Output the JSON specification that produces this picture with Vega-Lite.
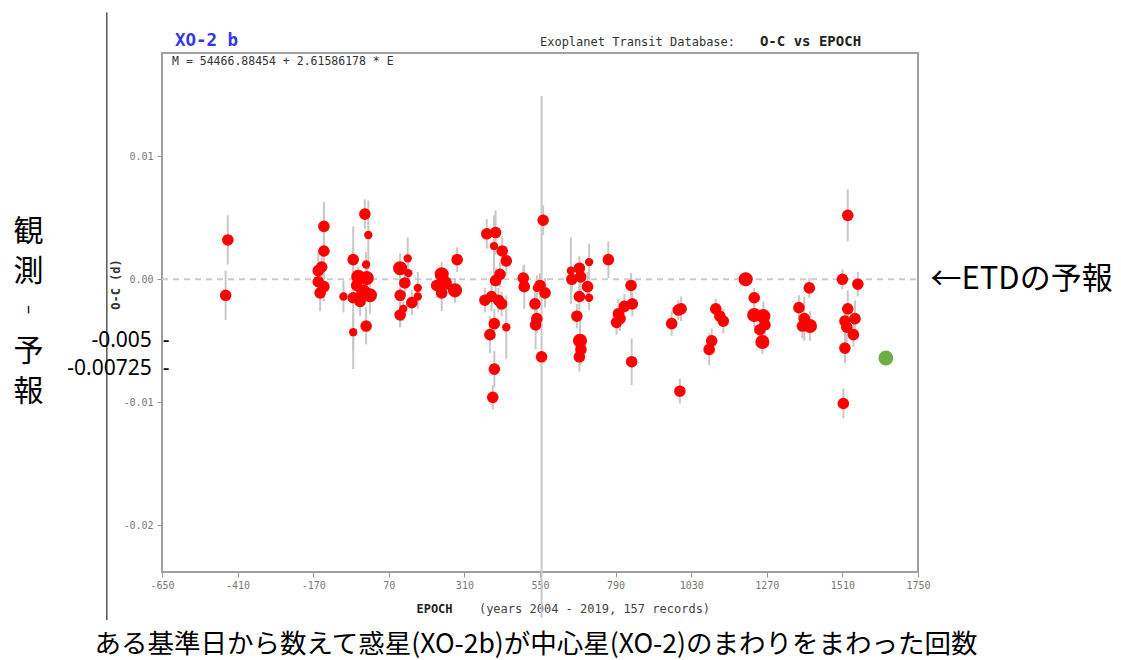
{
  "$schema": "https://vega.github.io/schema/vega-lite/v6.json",
  "width": 756,
  "height": 519,
  "autosize": {"type": "none"},
  "padding": {"left": 162, "top": 53, "right": 203, "bottom": 88},
  "background": "white",
  "title": {
    "text": "ある基準日から数えて惑星(XO-2b)が中心星(XO-2)のまわりをまわった回数",
    "orient": "bottom",
    "anchor": "middle",
    "frame": "group",
    "font": "Noto Sans CJK JP",
    "fontSize": 26.5,
    "fontWeight": "normal",
    "color": "#000000",
    "offset": 12,
    "dx": -4
  },
  "config": {
    "view": {"stroke": "#a0a0a0", "strokeWidth": 2},
    "axis": {"grid": false}
  },
  "datasets": {
    "obs": [
      {"e": -441, "oc": 0.0032, "err": 0.0020, "dq": 2},
      {"e": -448, "oc": -0.0013, "err": 0.0020, "dq": 2},
      {"e": -136, "oc": 0.0043, "err": 0.0020, "dq": 2},
      {"e": -136, "oc": 0.0023, "err": 0.0012, "dq": 2},
      {"e": -143, "oc": 0.0010, "err": 0.0010, "dq": 2},
      {"e": -154, "oc": 0.0007, "err": 0.0015, "dq": 2},
      {"e": -154, "oc": -0.0002, "err": 0.0012, "dq": 2},
      {"e": -136, "oc": -0.0006, "err": 0.0012, "dq": 2},
      {"e": -148, "oc": -0.0011, "err": 0.0015, "dq": 2},
      {"e": -74, "oc": -0.0014, "err": 0.0013, "dq": 3},
      {"e": -43, "oc": 0.0016, "err": 0.0010, "dq": 2},
      {"e": -6, "oc": 0.0053, "err": 0.0012, "dq": 2},
      {"e": 5, "oc": 0.0036, "err": 0.0028, "dq": 3},
      {"e": -2, "oc": 0.0012, "err": 0.0010, "dq": 3},
      {"e": -27, "oc": 0.0002, "err": 0.0008, "dq": 1},
      {"e": 0, "oc": 0.0001, "err": 0.0012, "dq": 1},
      {"e": -11, "oc": -0.0010, "err": 0.0010, "dq": 1},
      {"e": 10, "oc": -0.0013, "err": 0.0015, "dq": 1},
      {"e": -21, "oc": -0.0018, "err": 0.0012, "dq": 2},
      {"e": -32, "oc": -0.0005, "err": 0.0010, "dq": 2},
      {"e": -2, "oc": -0.0038, "err": 0.0015, "dq": 2},
      {"e": -43, "oc": -0.0043, "err": 0.0015, "dq": 3},
      {"e": -43, "oc": -0.0015, "err": 0.0058, "dq": 2},
      {"e": 106, "oc": 0.0009, "err": 0.0012, "dq": 1},
      {"e": 130, "oc": 0.0017, "err": 0.0017, "dq": 3},
      {"e": 132, "oc": 0.0005, "err": 0.0010, "dq": 3},
      {"e": 121, "oc": -0.0003, "err": 0.0010, "dq": 2},
      {"e": 106, "oc": -0.0013, "err": 0.0025, "dq": 2},
      {"e": 143, "oc": -0.0019, "err": 0.0010, "dq": 2},
      {"e": 106, "oc": -0.0029, "err": 0.0010, "dq": 2},
      {"e": 116, "oc": -0.0024, "err": 0.0010, "dq": 3},
      {"e": 162, "oc": -0.0007, "err": 0.0013, "dq": 3},
      {"e": 162, "oc": -0.0014, "err": 0.0010, "dq": 3},
      {"e": 238, "oc": 0.0004, "err": 0.0010, "dq": 1},
      {"e": 248, "oc": -0.0003, "err": 0.0012, "dq": 1},
      {"e": 222, "oc": -0.0005, "err": 0.0010, "dq": 2},
      {"e": 238, "oc": -0.0011, "err": 0.0015, "dq": 2},
      {"e": 280, "oc": -0.0009, "err": 0.0010, "dq": 1},
      {"e": 287, "oc": 0.0016, "err": 0.0010, "dq": 2},
      {"e": 381, "oc": 0.0037, "err": 0.0012, "dq": 2},
      {"e": 409, "oc": 0.0038, "err": 0.0018, "dq": 2},
      {"e": 404, "oc": 0.0027, "err": 0.0025, "dq": 3},
      {"e": 430, "oc": 0.0023, "err": 0.0012, "dq": 2},
      {"e": 443, "oc": 0.0015, "err": 0.0012, "dq": 2},
      {"e": 423, "oc": 0.0004, "err": 0.0010, "dq": 2},
      {"e": 409, "oc": -0.0001, "err": 0.0010, "dq": 2},
      {"e": 375, "oc": -0.0017, "err": 0.0010, "dq": 2},
      {"e": 396, "oc": -0.0014, "err": 0.0012, "dq": 2},
      {"e": 418, "oc": -0.0017, "err": 0.0010, "dq": 2},
      {"e": 428, "oc": -0.0020, "err": 0.0010, "dq": 2},
      {"e": 405, "oc": -0.0036, "err": 0.0012, "dq": 2},
      {"e": 391, "oc": -0.0045, "err": 0.0015, "dq": 2},
      {"e": 443, "oc": -0.0039, "err": 0.0026, "dq": 3},
      {"e": 405, "oc": -0.0073, "err": 0.0015, "dq": 2},
      {"e": 400, "oc": -0.0096, "err": 0.0010, "dq": 2},
      {"e": 497, "oc": 0.0001, "err": 0.0010, "dq": 2},
      {"e": 500, "oc": -0.0006, "err": 0.0018, "dq": 2},
      {"e": 560, "oc": 0.0048, "err": 0.0012, "dq": 2},
      {"e": 550, "oc": -0.0005, "err": 0.0010, "dq": 2},
      {"e": 566, "oc": -0.0011, "err": 0.0012, "dq": 2},
      {"e": 540, "oc": -0.0007, "err": 0.0010, "dq": 3},
      {"e": 534, "oc": -0.0020, "err": 0.0010, "dq": 2},
      {"e": 540, "oc": -0.0032, "err": 0.0012, "dq": 2},
      {"e": 536, "oc": -0.0037, "err": 0.0020, "dq": 2},
      {"e": 555, "oc": -0.0063, "err": 0.0212, "dq": 2},
      {"e": 648, "oc": 0.0007, "err": 0.0027, "dq": 3},
      {"e": 675, "oc": 0.0009, "err": 0.0010, "dq": 2},
      {"e": 651, "oc": 0.0000, "err": 0.0010, "dq": 2},
      {"e": 679, "oc": 0.0002, "err": 0.0012, "dq": 2},
      {"e": 706, "oc": 0.0014, "err": 0.0015, "dq": 3},
      {"e": 701, "oc": -0.0006, "err": 0.0012, "dq": 2},
      {"e": 675, "oc": -0.0014, "err": 0.0015, "dq": 2},
      {"e": 706, "oc": -0.0015, "err": 0.0010, "dq": 3},
      {"e": 667, "oc": -0.0030, "err": 0.0010, "dq": 2},
      {"e": 677, "oc": -0.0050, "err": 0.0020, "dq": 1},
      {"e": 680, "oc": -0.0057, "err": 0.0012, "dq": 2},
      {"e": 675, "oc": -0.0063, "err": 0.0012, "dq": 2},
      {"e": 767, "oc": 0.0016, "err": 0.0015, "dq": 2},
      {"e": 839, "oc": -0.0005, "err": 0.0010, "dq": 2},
      {"e": 843, "oc": -0.0020, "err": 0.0010, "dq": 2},
      {"e": 818, "oc": -0.0022, "err": 0.0010, "dq": 2},
      {"e": 799, "oc": -0.0028, "err": 0.0012, "dq": 2},
      {"e": 793, "oc": -0.0035, "err": 0.0010, "dq": 2},
      {"e": 804, "oc": -0.0032, "err": 0.0010, "dq": 2},
      {"e": 841, "oc": -0.0067, "err": 0.0019, "dq": 2},
      {"e": 989, "oc": -0.0025, "err": 0.0008, "dq": 2},
      {"e": 998, "oc": -0.0024, "err": 0.0010, "dq": 2},
      {"e": 968, "oc": -0.0036, "err": 0.0010, "dq": 2},
      {"e": 994, "oc": -0.0091, "err": 0.0010, "dq": 2},
      {"e": 1108, "oc": -0.0024, "err": 0.0008, "dq": 2},
      {"e": 1121, "oc": -0.0030, "err": 0.0008, "dq": 2},
      {"e": 1132, "oc": -0.0034, "err": 0.0010, "dq": 2},
      {"e": 1095, "oc": -0.0050, "err": 0.0010, "dq": 2},
      {"e": 1087, "oc": -0.0057, "err": 0.0013, "dq": 2},
      {"e": 1203, "oc": 0.0000, "err": 0.0006, "dq": 1},
      {"e": 1230, "oc": -0.0015, "err": 0.0008, "dq": 2},
      {"e": 1230, "oc": -0.0029, "err": 0.0010, "dq": 1},
      {"e": 1259, "oc": -0.0030, "err": 0.0012, "dq": 1},
      {"e": 1264, "oc": -0.0037, "err": 0.0010, "dq": 2},
      {"e": 1248, "oc": -0.0041, "err": 0.0012, "dq": 2},
      {"e": 1256, "oc": -0.0051, "err": 0.0010, "dq": 1},
      {"e": 1405, "oc": -0.0007, "err": 0.0008, "dq": 2},
      {"e": 1372, "oc": -0.0023, "err": 0.0010, "dq": 2},
      {"e": 1389, "oc": -0.0032, "err": 0.0018, "dq": 2},
      {"e": 1407, "oc": -0.0038, "err": 0.0012, "dq": 1},
      {"e": 1383, "oc": -0.0038, "err": 0.0010, "dq": 2},
      {"e": 1527, "oc": 0.0052, "err": 0.0021, "dq": 2},
      {"e": 1510, "oc": 0.0000, "err": 0.0008, "dq": 2},
      {"e": 1559, "oc": -0.0004, "err": 0.0010, "dq": 2},
      {"e": 1527, "oc": -0.0024, "err": 0.0015, "dq": 2},
      {"e": 1550, "oc": -0.0032, "err": 0.0015, "dq": 2},
      {"e": 1518, "oc": -0.0034, "err": 0.0012, "dq": 2},
      {"e": 1524, "oc": -0.0039, "err": 0.0012, "dq": 2},
      {"e": 1545, "oc": -0.0045, "err": 0.0010, "dq": 2},
      {"e": 1518, "oc": -0.0056, "err": 0.0012, "dq": 2},
      {"e": 1513, "oc": -0.0101, "err": 0.0012, "dq": 2}
    ],
    "pred": [{"e": 1648, "oc": -0.0064}]
  },
  "layer": [
    {
      "data": {"values": [{}]},
      "mark": {"type": "rule", "color": "#cccccc", "strokeWidth": 2, "strokeDash": [6, 5]},
      "encoding": {
        "x": {"datum": -650, "type": "quantitative", "scale": {"domain": [-650, 1750], "nice": false, "zero": false},
          "axis": {"orient": "top", "labels": false, "ticks": false, "domain": false, "title": "O-C vs EPOCH", "titleFont": "DejaVu Sans Mono", "titleFontSize": 14, "titleFontWeight": "bold", "titleColor": "#222222", "titleX": 648, "titleY": -12, "titleAlign": "center", "titleBaseline": "middle"}},
        "x2": {"datum": 1750},
        "y": {"datum": 0, "type": "quantitative", "scale": {"domain": [-0.0238, 0.0184], "nice": false, "zero": false}, "axis": null}
      }
    },
    {
      "data": {"values": [{}]},
      "mark": {"type": "rule", "color": "#000000", "strokeWidth": 1},
      "encoding": {
        "x": {"datum": -825, "type": "quantitative", "scale": {"domain": [-650, 1750], "nice": false, "zero": false}, "axis": null},
        "y": {"datum": 0.0217, "type": "quantitative", "scale": {"domain": [-0.0238, 0.0184], "nice": false, "zero": false}, "axis": null},
        "y2": {"datum": -0.0277}
      }
    },
    {
      "data": {"name": "obs"},
      "mark": {"type": "errorbar", "color": "#c8c8c8", "thickness": 2},
      "encoding": {
        "x": {"field": "e", "type": "quantitative", "scale": {"domain": [-650, 1750], "nice": false, "zero": false},
          "axis": {"orient": "bottom", "values": [-650, -410, -170, 70, 310, 550, 790, 1030, 1270, 1510, 1750], "format": "d", "labelExpr": "replace(datum.label, '−', '-')", "labelFlush": false, "labelFont": "DejaVu Sans Mono", "labelFontSize": 10, "labelColor": "#777777", "labelPadding": 3, "tickColor": "#999999", "tickSize": 5, "domain": false, "title": "EPOCH", "titleFont": "DejaVu Sans Mono", "titleFontSize": 12, "titleFontWeight": "bold", "titleColor": "#222222", "titleX": 272, "titleY": 36, "titleAlign": "center", "titleBaseline": "middle"}},
        "y": {"field": "oc", "type": "quantitative", "scale": {"domain": [-0.0238, 0.0184], "nice": false, "zero": false},
          "axis": {"orient": "left", "values": [0.01, 0, -0.01, -0.02], "format": ".2f", "labelExpr": "replace(datum.label, '−', '-')", "labelFont": "DejaVu Sans Mono", "labelFontSize": 10, "labelColor": "#777777", "labelPadding": 4, "tickColor": "#999999", "tickSize": 5, "domain": false, "title": "O-C (d)", "titleFont": "DejaVu Sans Mono", "titleFontSize": 12, "titleFontWeight": "bold", "titleColor": "#333333", "titleX": -47, "titleY": 231, "titleAlign": "center", "titleBaseline": "middle"}},
        "yError": {"field": "err"}
      }
    },
    {
      "data": {"name": "obs"},
      "mark": {"type": "circle", "color": "#ff0000", "opacity": 1},
      "encoding": {
        "x": {"field": "e", "type": "quantitative", "scale": {"domain": [-650, 1750], "nice": false, "zero": false},
          "axis": {"orient": "bottom", "labels": false, "ticks": false, "domain": false, "title": "(years 2004 - 2019, 157 records)", "titleFont": "DejaVu Sans Mono", "titleFontSize": 12, "titleFontWeight": "normal", "titleColor": "#444444", "titleX": 432, "titleY": 36, "titleAlign": "center", "titleBaseline": "middle"}},
        "y": {"field": "oc", "type": "quantitative", "scale": {"domain": [-0.0238, 0.0184], "nice": false, "zero": false},
          "axis": {"orient": "left", "offset": 55, "values": [-0.005, -0.00725], "labelExpr": "datum.value > -0.006 ? '-0.005\u00a0\u00a0-' : '-0.00725\u00a0\u00a0-'", "labelFont": "Noto Sans", "labelFontSize": 21, "labelColor": "#000000", "labelPadding": -62, "labelAlign": "right", "labelBaseline": "middle", "labelLimit": 0, "ticks": false, "tickSize": 0, "domain": false, "title": ["観", "測", "︲", "予", "報"], "titleFont": "Noto Sans CJK JP", "titleFontSize": 30, "titleLineHeight": 40, "titleFontWeight": "normal", "titleColor": "#000000", "titleAngle": 0, "titleX": -79, "titleY": 178, "titleAlign": "center", "titleBaseline": "middle"}},
        "size": {"field": "dq", "type": "ordinal", "scale": {"domain": [1, 2, 3], "range": [200, 70, 24]}, "legend": null}
      }
    },
    {
      "data": {"name": "pred"},
      "mark": {"type": "circle", "color": "#70ad47", "opacity": 1, "size": 220},
      "encoding": {
        "x": {"field": "e", "type": "quantitative", "scale": {"domain": [-650, 1750], "nice": false, "zero": false},
          "axis": {"orient": "top", "labels": false, "ticks": false, "domain": false, "title": "Exoplanet Transit Database:", "titleFont": "DejaVu Sans Mono", "titleFontSize": 12, "titleFontWeight": "normal", "titleColor": "#333333", "titleX": 475, "titleY": -12, "titleAlign": "center", "titleBaseline": "middle"}},
        "y": {"field": "oc", "type": "quantitative", "scale": {"domain": [-0.0238, 0.0184], "nice": false, "zero": false},
          "axis": {"orient": "right", "values": [0], "labelExpr": "'←ETDの予報'", "labelFont": "Noto Sans CJK JP", "labelFontSize": 31, "labelColor": "#000000", "labelPadding": 12, "labelAlign": "left", "labelBaseline": "middle", "labelLimit": 0, "ticks": false, "tickSize": 0, "domain": false, "title": null}}
      }
    },
    {
      "data": {"values": [{"t": "M = 54466.88454 + 2.61586178 * E"}]},
      "mark": {"type": "text", "align": "left", "baseline": "middle", "font": "DejaVu Sans Mono", "fontSize": 11.5, "color": "#333333"},
      "encoding": {
        "x": {"datum": -618, "type": "quantitative", "scale": {"domain": [-650, 1750], "nice": false, "zero": false},
          "axis": {"orient": "top", "labels": false, "ticks": false, "domain": false, "title": "XO-2 b", "titleFont": "DejaVu Sans Mono", "titleFontSize": 17.5, "titleFontWeight": "bold", "titleColor": "#3535e6", "titleX": 44, "titleY": -13, "titleAlign": "center", "titleBaseline": "middle"}},
        "y": {"datum": 0.0177, "type": "quantitative", "scale": {"domain": [-0.0238, 0.0184], "nice": false, "zero": false}, "axis": null},
        "text": {"field": "t"}
      }
    }
  ],
  "resolve": {"axis": {"x": "independent", "y": "independent"}}
}
